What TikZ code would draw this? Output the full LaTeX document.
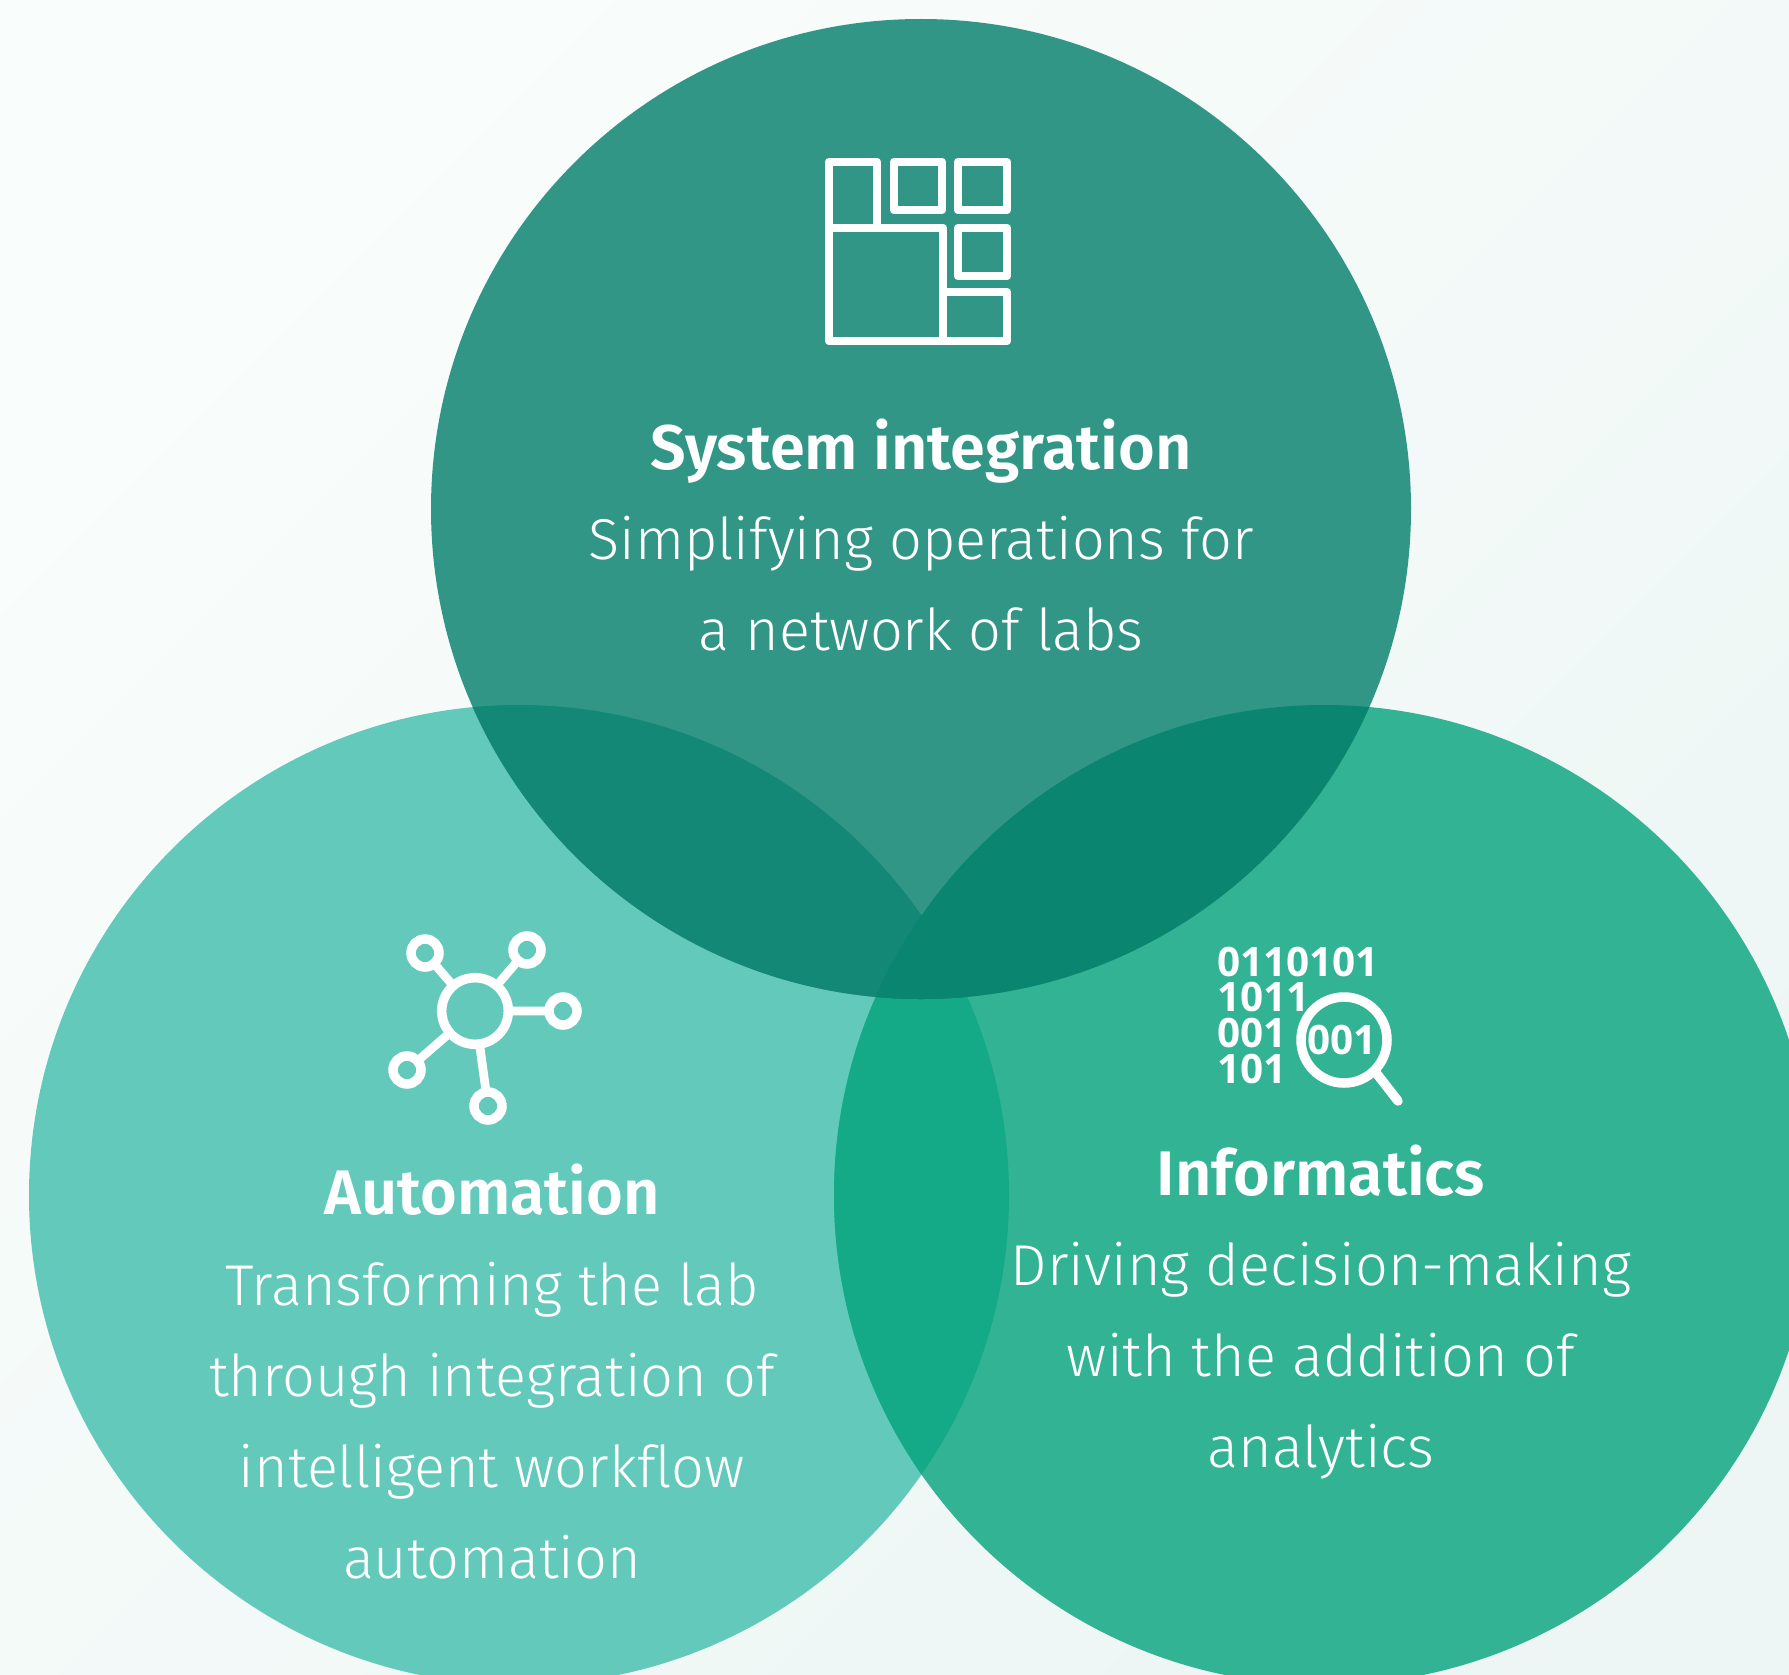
\documentclass[tikz,border=0pt]{standalone}
\usepackage{fontspec}
\setmainfont{Fira Sans}
\newfontfamily\lightf[Ligatures=NoCommon]{Fira Sans Light}
\newfontfamily\boldf[Ligatures=NoCommon]{Fira Sans SemiBold}
\newfontfamily\digitf{Open Sans Bold}
\definecolor{ctop}{HTML}{329686}
\definecolor{cleft}{HTML}{63C9BB}
\definecolor{cright}{HTML}{31B394}
\definecolor{ctl}{HTML}{138876}
\definecolor{ctr}{HTML}{098570}
\definecolor{clr}{HTML}{15AA87}
\definecolor{call}{HTML}{098570}
\definecolor{bgA}{HTML}{F9FDFB}
\definecolor{bgB}{HTML}{EDF6F5}
\tikzset{
  heading/.style={text=white,font=\boldf\fontsize{63}{66}\selectfont,anchor=base,inner sep=0},
  body/.style={text=white,font=\lightf\fontsize{57.6}{91}\selectfont,anchor=center,inner sep=0,align=center},
  icon/.style={draw=white,line width=8.5pt,line join=round},
  spoke/.style={draw=white,line width=8.7pt},
  ring/.style={draw=white,line width=9.5pt},
  digits/.style={text=white,font=\digitf\fontsize{40.5}{41}\selectfont,anchor=base west,inner sep=0}
}
\begin{document}
\begin{tikzpicture}[x=1pt,y=-1pt]
\useasboundingbox (0,0) rectangle (1789,1675);
\clip (0,0) rectangle (1789,1675);
\shade[left color=bgA,right color=bgB,shading angle=45] (0,0) rectangle (1789,1675);
\coordinate (T) at (921,509);
\coordinate (L) at (519,1195);
\coordinate (R) at (1324,1195);
\def\rad{490}
\fill[cleft] (L) circle (\rad);
\fill[cright] (R) circle (\rad);
\fill[ctop] (T) circle (\rad);
\begin{scope}\clip (L) circle (\rad); \fill[clr] (R) circle (\rad); \end{scope}
\begin{scope}\clip (T) circle (\rad); \fill[ctl] (L) circle (\rad); \end{scope}
\begin{scope}\clip (T) circle (\rad); \fill[ctr] (R) circle (\rad); \end{scope}
\begin{scope}\clip (T) circle (\rad); \clip (L) circle (\rad); \fill[call] (R) circle (\rad); \end{scope}
% top icon
\draw[icon] (829,162) rectangle (877,228);
\draw[icon] (829,228) rectangle (943,341);
\draw[icon] (894,162) rectangle (942,210);
\draw[icon] (958,162) rectangle (1007,210);
\draw[icon] (958,228) rectangle (1007,276);
\draw[icon] (943,292) rectangle (1007,341);
\node[heading] (h1) at (921,469) {System integration};
\node[body] (b1) at (921,584) {Simplifying operations for\\a network of labs};
% left icon
\coordinate (hub) at (475,1011);
\coordinate (n1) at (425,953);
\coordinate (n2) at (527,950);
\coordinate (n3) at (563,1011);
\coordinate (n4) at (407,1070);
\coordinate (n5) at (488,1106);
\draw[spoke] (n1) -- (hub) (n2) -- (hub) (n3) -- (hub) (n4) -- (hub) (n5) -- (hub);
\fill[cleft] (hub) circle (33);
\draw[ring] (hub) circle (33.3);
\foreach \p in {n1,n2,n3,n4,n5}{
  \fill[cleft] (\p) circle (14);
  \draw[ring] (\p) circle (14);
}
\node[heading] (h2) at (492,1214) {Automation};
\node[body] (b2) at (492,1421) {Transforming the lab\\through integration of\\intelligent workflow\\automation};
% right icon
\node[digits] (d1) at (1217,976) {0110101};
\node[digits] (d2) at (1217,1011) {1011};
\node[digits] (d3) at (1217,1047) {001};
\node[digits] (d4) at (1217,1083) {101};
\draw[ring] (1344,1040) circle (43);
\draw[ring,line cap=round] (1377,1074) -- (1398,1101);
\node[text=white,font=\digitf\fontsize{40.5}{41}\selectfont,inner sep=0] (d5) at (1342,1040) {001};
\node[heading] (h3) at (1321,1195) {Informatics};
\node[body] (b3) at (1321,1361) {Driving decision-making\\with the addition of\\analytics};
\end{tikzpicture}
\end{document}
